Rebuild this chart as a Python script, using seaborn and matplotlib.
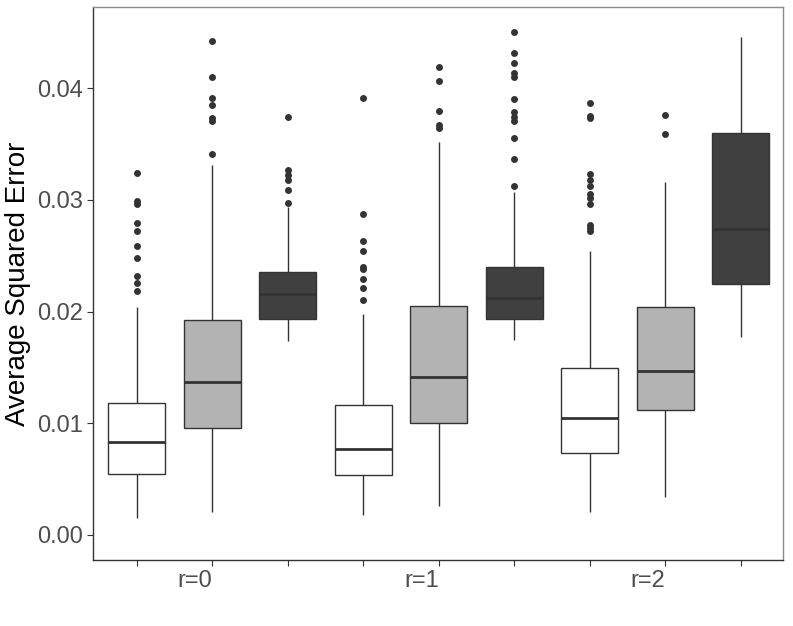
import numpy as np
import pandas as pd
import matplotlib.pyplot as plt
import seaborn as sns

# nine boxes: three methods for each of r=0, r=1, r=2
box_ids = ['r0_a', 'r0_b', 'r0_c', 'r1_a', 'r1_b', 'r1_c', 'r2_a', 'r2_b', 'r2_c']
tick_labels = ['', 'r=0', '', '', 'r=1', '', '', 'r=2', '']
box_colors = ['#FFFFFF', '#B3B3B3', '#404040'] * 3

# five-number summaries
whisker_lo = [0.00152, 0.00209, 0.01736, 0.00176, 0.00257, 0.01745, 0.00203, 0.00340, 0.01772]
q1 = [0.00546, 0.00960, 0.01933, 0.00540, 0.01002, 0.01930, 0.00736, 0.01116, 0.02243]
median = [0.00835, 0.01369, 0.02154, 0.00772, 0.01411, 0.02124, 0.01050, 0.01465, 0.02741]
q3 = [0.01181, 0.01921, 0.02351, 0.01163, 0.02052, 0.02398, 0.01492, 0.02038, 0.03600]
whisker_hi = [0.02040, 0.03311, 0.02935, 0.01975, 0.03520, 0.03067, 0.02541, 0.03162, 0.04454]

outliers = [
    [0.03239, 0.02989, 0.02962, 0.02792, 0.02720, 0.02586, 0.02479, 0.02318, 0.02255, 0.02183],
    [0.04421, 0.04096, 0.03913, 0.03848, 0.03729, 0.03707, 0.03412],
    [0.03740, 0.03266, 0.03221, 0.03177, 0.03087, 0.02971],
    [0.03908, 0.02872, 0.02634, 0.02544, 0.02401, 0.02380, 0.02294, 0.02208, 0.02103],
    [0.04191, 0.04066, 0.03791, 0.03669, 0.03645],
    [0.04504, 0.04310, 0.04221, 0.04137, 0.04101, 0.03904, 0.03788, 0.03743, 0.03707,
     0.03550, 0.03367, 0.03126],
    [0.03866, 0.03752, 0.03729, 0.03233, 0.03177, 0.03123, 0.03049, 0.03013, 0.02962,
     0.02774, 0.02744, 0.02720],
    [0.03758, 0.03591],
    [],
]

box_rows = []
for i, b in enumerate(box_ids):
    for v in (whisker_lo[i], q1[i], median[i], q3[i], whisker_hi[i]):
        box_rows.append({'box': b, 'err': v})
box_df = pd.DataFrame(box_rows)

out_rows = [{'box': b, 'err': v} for b, vals in zip(box_ids, outliers) for v in vals]
out_df = pd.DataFrame(out_rows)

plt.rcParams['font.family'] = ['Liberation Sans', 'DejaVu Sans']
fig = plt.figure(figsize=(7.93, 6.26), dpi=100)
ax = fig.add_axes([0.1173, 0.1054, 0.8701, 0.8834])

# whiskers run to min/max of the summary points; outliers drawn separately
sns.boxplot(data=box_df, x='box', y='err', hue='box', order=box_ids, hue_order=box_ids,
            palette=box_colors, saturation=1, width=0.75, whis=(0, 100),
            showfliers=False, showcaps=False, linecolor='#333333', linewidth=1.0,
            medianprops={'linewidth': 2.0}, legend=False, ax=ax)

sns.stripplot(data=out_df, x='box', y='err', order=box_ids, jitter=False,
              color='#333333', size=5, linewidth=0, ax=ax)

ax.set_xlim(-0.58, 8.56)
ax.set_ylim(-0.00224, 0.04725)
ax.set_yticks([0.0, 0.01, 0.02, 0.03, 0.04])
ax.set_yticklabels(['0.00', '0.01', '0.02', '0.03', '0.04'])
ax.set_xticks(range(9))
ax.set_xticklabels(tick_labels, ha='right')

ax.set_xlabel('')
ax.set_ylabel('Average Squared Error', fontsize=20, color='black', labelpad=4)
ax.tick_params(axis='both', labelsize=17, labelcolor='#4D4D4D', color='#333333',
               length=4, width=0.8)
ax.tick_params(axis='x', pad=3)

for side in ['left', 'bottom']:
    ax.spines[side].set_color('#333333')
    ax.spines[side].set_linewidth(1.0)
for side in ['top', 'right']:
    ax.spines[side].set_color('#8C8C8C')
    ax.spines[side].set_linewidth(1.0)

fig.savefig('out.png', dpi=100)
